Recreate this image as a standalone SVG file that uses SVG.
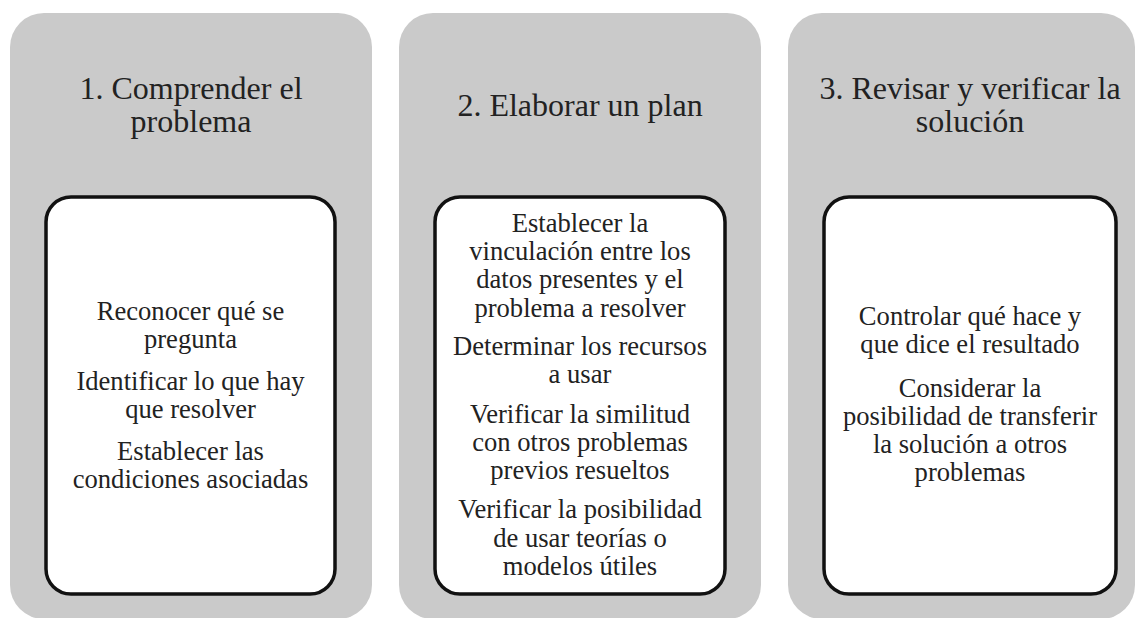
<svg xmlns="http://www.w3.org/2000/svg" width="1139" height="618" viewBox="0 0 1139 618">
<style>
.panel{fill:#cacaca;stroke:none}
.box{fill:#ffffff;stroke:#111111;stroke-width:3.5}
.title{font-family:"Liberation Serif","Times New Roman",serif;font-size:32px;fill:#222222;text-anchor:middle}
.body{font-family:"Liberation Serif","Times New Roman",serif;font-size:26.6px;fill:#222222;text-anchor:middle}
</style>
<rect x="0" y="0" width="1139" height="618" fill="#ffffff"/>
<g id="step1">
<rect class="panel" x="10" y="13" width="362" height="606" rx="34" ry="34"/>
<text class="title" x="191" y="99">1. Comprender el</text>
<text class="title" x="191" y="132">problema</text>
<rect class="box" x="46" y="197" width="289" height="397" rx="25" ry="25"/>
<text class="body" x="190.5" y="320">Reconocer qué se</text>
<text class="body" x="190.5" y="348">pregunta</text>
<text class="body" x="190.5" y="390">Identificar lo que hay</text>
<text class="body" x="190.5" y="418">que resolver</text>
<text class="body" x="190.5" y="460">Establecer las</text>
<text class="body" x="190.5" y="488">condiciones asociadas</text>
</g>
<g id="step2">
<rect class="panel" x="399" y="13" width="362" height="606" rx="34" ry="34"/>
<text class="title" x="580" y="116">2. Elaborar un plan</text>
<rect class="box" x="435" y="197" width="290" height="397" rx="25" ry="25"/>
<text class="body" x="580" y="232">Establecer la</text>
<text class="body" x="580" y="260">vinculación entre los</text>
<text class="body" x="580" y="288">datos presentes y el</text>
<text class="body" x="580" y="317">problema a resolver</text>
<text class="body" x="580" y="355">Determinar los recursos</text>
<text class="body" x="580" y="383">a usar</text>
<text class="body" x="580" y="423">Verificar la similitud</text>
<text class="body" x="580" y="451">con otros problemas</text>
<text class="body" x="580" y="479">previos resueltos</text>
<text class="body" x="580" y="518">Verificar la posibilidad</text>
<text class="body" x="580" y="547">de usar teorías o</text>
<text class="body" x="580" y="575">modelos útiles</text>
</g>
<g id="step3">
<rect class="panel" x="788" y="13" width="347" height="606" rx="34" ry="34"/>
<text class="title" x="970" y="99">3. Revisar y verificar la</text>
<text class="title" x="970" y="132">solución</text>
<rect class="box" x="824" y="197" width="292" height="397" rx="25" ry="25"/>
<text class="body" x="970" y="325">Controlar qué hace y</text>
<text class="body" x="970" y="353">que dice el resultado</text>
<text class="body" x="970" y="397">Considerar la</text>
<text class="body" x="970" y="425">posibilidad de transferir</text>
<text class="body" x="970" y="453">la solución a otros</text>
<text class="body" x="970" y="481">problemas</text>
</g>
<g id="connectors"></g>
</svg>
